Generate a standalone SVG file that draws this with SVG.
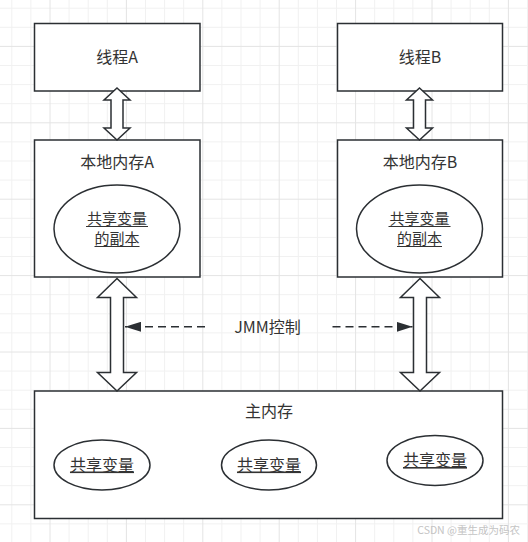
<svg xmlns="http://www.w3.org/2000/svg" width="528" height="542" viewBox="0 0 528 542">
<style>
.box{fill:#fff;stroke:#2b2f33;stroke-width:1.5}
.dbl{fill:#fff;stroke:#2b2f33;stroke-width:1.5;stroke-linejoin:miter}
.t{font-family:"Noto Sans CJK SC","Noto Sans",sans-serif;font-size:16px;fill:#333;text-anchor:middle}
.s{font-size:15px}
.u{text-decoration:underline}
.ul{stroke:#333;stroke-width:1}
.dash{fill:none;stroke:#2b2f33;stroke-width:1.6;stroke-dasharray:8 5}
.minor{stroke:#f1f1f1;stroke-width:1;fill:none}
.major{stroke:#e4e4e4;stroke-width:1;fill:none}
</style>
<defs>
<marker id="ah" viewBox="0 0 16 10" refX="16" refY="5" markerWidth="16" markerHeight="10" markerUnits="userSpaceOnUse" orient="auto">
<path d="M0 0 L16 5 L0 10 Z" fill="#2b2f33"/>
</marker>
</defs>
<rect width="528" height="542" fill="#fff"/>
<g id="grid">
<path class="minor" d="M11.8 0V542M30.9 0V542M69.1 0V542M88.2 0V542M107.3 0V542M145.5 0V542M164.6 0V542M183.7 0V542M221.9 0V542M241 0V542M260.1 0V542M298.3 0V542M317.4 0V542M336.5 0V542M374.7 0V542M393.8 0V542M412.9 0V542M451.1 0V542M470.2 0V542M489.3 0V542M527.5 0V542M0 8.2H528M0 27.3H528M0 65.5H528M0 84.6H528M0 103.7H528M0 141.9H528M0 161H528M0 180.1H528M0 218.3H528M0 237.4H528M0 256.5H528M0 294.7H528M0 313.8H528M0 332.9H528M0 371.1H528M0 390.2H528M0 409.3H528M0 447.5H528M0 466.6H528M0 485.7H528M0 523.9H528"/>
<path class="major" d="M50 0V542M126.4 0V542M202.8 0V542M279.2 0V542M355.6 0V542M432 0V542M508.4 0V542M0 46.4H528M0 122.8H528M0 199.2H528M0 275.6H528M0 352H528M0 428.4H528M0 504.8H528"/>
</g>
<g id="threadA">
<rect class="box" x="34.5" y="23.5" width="165.5" height="67.5"/>
<text class="t" x="117" y="63">线程A</text>
</g>
<g id="threadB">
<rect class="box" x="337.5" y="23.5" width="165" height="67.5"/>
<text class="t" x="420" y="63">线程B</text>
</g>
<g id="localA">
<rect class="box" x="34.5" y="140" width="165.5" height="137"/>
<text class="t" x="117" y="168">本地内存A</text>
<ellipse class="box" cx="117" cy="229" rx="63" ry="44"/>
<text class="t s" x="117" y="223.5">共享变量</text>
<line class="ul" x1="86" y1="226.5" x2="148" y2="226.5"/>
<text class="t s" x="117" y="243.5">的副本</text>
<line class="ul" x1="94.5" y1="246.5" x2="139.5" y2="246.5"/>
</g>
<g id="localB">
<rect class="box" x="337.5" y="140" width="165" height="137"/>
<text class="t" x="420" y="168">本地内存B</text>
<ellipse class="box" cx="419.5" cy="229" rx="63" ry="44"/>
<text class="t s" x="419.5" y="223.5">共享变量</text>
<line class="ul" x1="388.5" y1="226.5" x2="450.5" y2="226.5"/>
<text class="t s" x="419.5" y="243.5">的副本</text>
<line class="ul" x1="397" y1="246.5" x2="442" y2="246.5"/>
</g>
<g id="mainMem">
<rect class="box" x="34.5" y="391" width="468" height="127.5"/>
<text class="t" x="269" y="417">主内存</text>
<ellipse class="box" cx="102" cy="465" rx="48" ry="25"/>
<text class="t u" x="102" y="470.5">共享变量</text>
<ellipse class="box" cx="269" cy="465" rx="47.5" ry="25"/>
<text class="t u" x="269" y="470.5">共享变量</text>
<ellipse class="box" cx="435" cy="460.5" rx="48" ry="25"/>
<text class="t u" x="435" y="466">共享变量</text>
</g>
<g id="connectors">
<polygon class="dbl" points="117,88 130,100 123,100 123,128 130,128 117,140 104,128 111,128 111,100 104,100"/>
<polygon class="dbl" points="419.5,88 432.5,100 425.5,100 425.5,128 432.5,128 419.5,140 406.5,128 413.5,128 413.5,100 406.5,100"/>
<polygon class="dbl" points="117,278.5 136.5,297.5 123.5,297.5 123.5,372.5 136.5,372.5 117,391 97.5,372.5 110.5,372.5 110.5,297.5 97.5,297.5"/>
<polygon class="dbl" points="420,278.5 439.5,297.5 426.5,297.5 426.5,372.5 439.5,372.5 420,391 400.5,372.5 413.5,372.5 413.5,297.5 400.5,297.5"/>
<line class="dash" x1="205" y1="326.8" x2="125" y2="326.8" marker-end="url(#ah)"/>
<line class="dash" x1="332.5" y1="326.8" x2="412.5" y2="326.8" marker-end="url(#ah)"/>
<text class="t" x="267.5" y="332.5">JMM控制</text>
</g>
<text x="520" y="534" font-family="'Noto Sans CJK SC','Noto Sans',sans-serif" font-size="10.5" fill="#c4c4c4" text-anchor="end">CSDN @重生成为码农</text>
</svg>
